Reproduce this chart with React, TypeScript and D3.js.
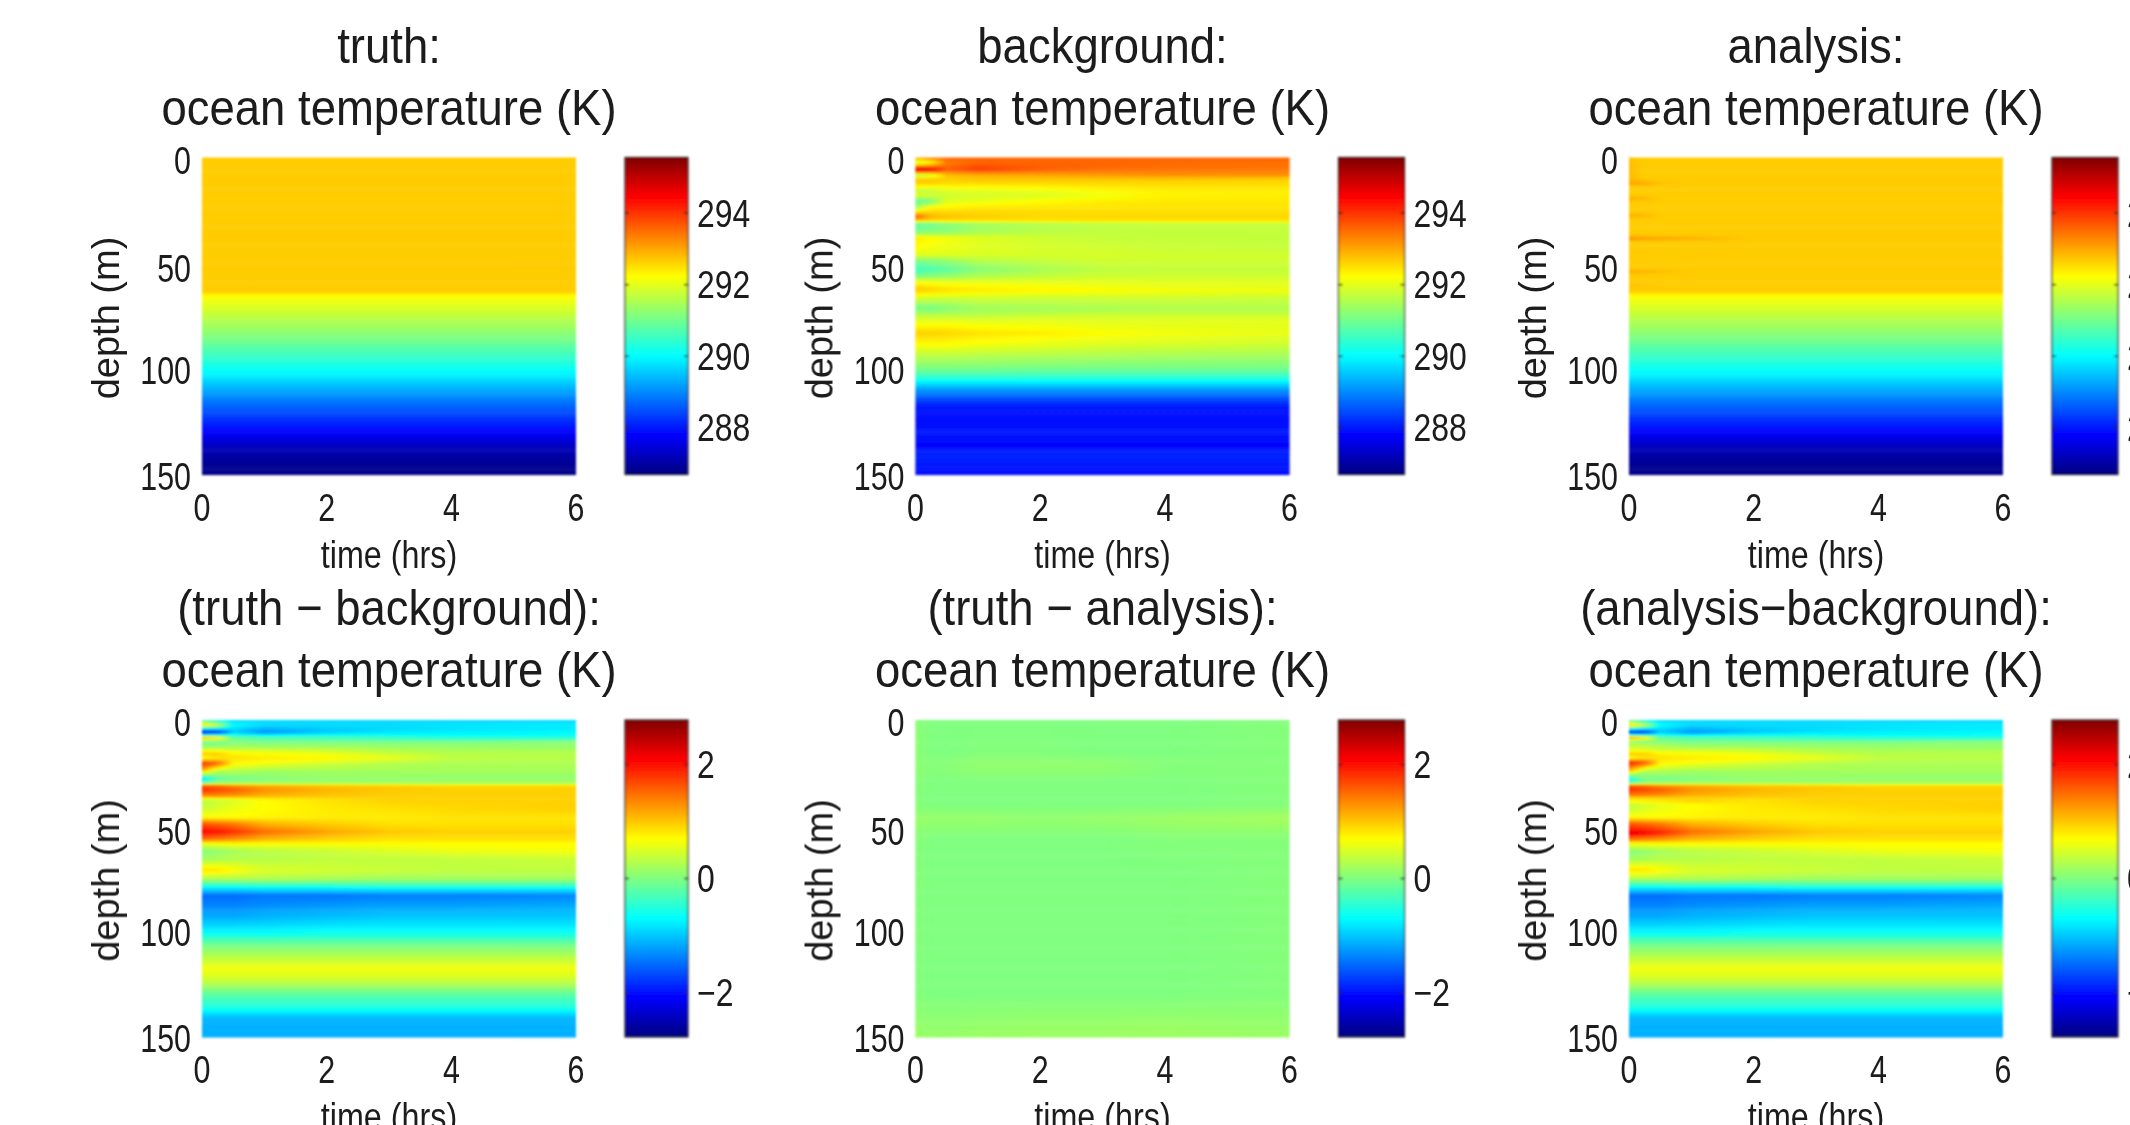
import React from "react";
import * as d3 from "d3";

// ---- data ----
const sampleTimes = [0, 0.25, 0.5, 1, 2, 3, 4, 6];

const truthDepths = [0, 63.5, 65.5, 85, 101.7, 114.6, 130, 136, 142, 150];
const truthTemps = [292.67, 292.67, 292.23, 291.12, 290.0, 288.9, 287.8, 287.3, 286.98, 286.75];

// truth − background (K), one row per depth, one column per sample time
const diffDepths = [0, 2.5, 5.8, 8.5, 10, 12, 16, 18, 20.5, 24, 28, 30, 31, 33, 36, 38, 42, 46, 49, 53, 56.5, 58.5, 62, 66, 71, 75, 78, 80, 83, 88, 93, 100, 106, 112, 118, 124, 130, 137, 139, 142, 150];
const diffRows = [
  [-0.3, -0.7, -0.9, -0.9, -0.9, -0.9, -0.9, -0.9],
  [0.9, 0.5, -0.7, -0.9, -0.9, -0.9, -0.85, -0.8],
  [-2.2, -2.0, -1.0, -1.3, -1.0, -0.85, -0.8, -0.75],
  [1.2, 1.0, -0.1, -0.2, -0.3, -0.4, -0.5, -0.5],
  [0, 0, 0, -0.1, -0.1, -0.1, -0.1, 0],
  [0, 0, 0.1, 0.1, 0.1, 0.1, 0.1, 0.1],
  [1.0, 1.0, 0.75, 0.7, 0.6, 0.4, 0.3, 0.3],
  [0.6, 0.8, 0.85, 0.8, 0.75, 0.6, 0.35, 0.3],
  [1.9, 1.6, 0.75, 0.65, 0.45, 0.3, 0.25, 0.25],
  [1.1, 0.3, 0.3, 0.2, 0.2, 0.2, 0.2, 0.2],
  [-1.0, -0.2, -0.1, 0, 0.1, 0.1, 0.1, 0.1],
  [0, 0.2, 0.2, 0.2, 0.2, 0.2, 0.2, 0.2],
  [1.6, 1.5, 1.3, 1.15, 1.0, 0.95, 0.9, 0.9],
  [1.85, 1.7, 1.6, 1.3, 1.1, 1.0, 0.95, 0.95],
  [1.3, 1.3, 1.25, 1.1, 1.0, 0.95, 0.95, 0.95],
  [0.3, 0.4, 0.5, 0.7, 0.85, 0.95, 0.95, 0.95],
  [0.4, 0.5, 0.6, 0.7, 0.8, 0.85, 0.9, 0.95],
  [0.7, 0.7, 0.7, 0.75, 0.8, 0.8, 0.85, 0.85],
  [1.6, 1.5, 1.4, 1.1, 0.95, 0.85, 0.85, 0.85],
  [2.1, 2.0, 1.85, 1.5, 1.2, 1.0, 0.95, 0.95],
  [1.5, 1.4, 1.3, 1.1, 0.95, 0.85, 0.85, 0.85],
  [0.6, 0.65, 0.7, 0.7, 0.7, 0.7, 0.7, 0.7],
  [0, 0.1, 0.2, 0.3, 0.4, 0.5, 0.6, 0.65],
  [0.2, 0.25, 0.3, 0.3, 0.35, 0.35, 0.35, 0.4],
  [0.85, 0.85, 0.7, 0.5, 0.45, 0.4, 0.35, 0.35],
  [0.3, 0.3, 0.3, 0.3, 0.25, 0.2, 0.2, 0.2],
  [-0.4, -0.4, -0.4, -0.35, -0.35, -0.3, -0.3, -0.3],
  [-0.9, -0.9, -0.9, -0.85, -0.85, -0.8, -0.8, -0.8],
  [-1.5, -1.5, -1.5, -1.45, -1.45, -1.4, -1.4, -1.35],
  [-1.35, -1.35, -1.35, -1.3, -1.25, -1.2, -1.2, -1.15],
  [-1.15, -1.15, -1.15, -1.1, -1.05, -1.0, -1.0, -1.0],
  [-0.75, -0.75, -0.75, -0.75, -0.7, -0.7, -0.7, -0.7],
  [-0.1, -0.1, -0.1, -0.1, -0.1, -0.1, -0.1, -0.1],
  [0.3, 0.3, 0.3, 0.3, 0.3, 0.3, 0.3, 0.3],
  [0.65, 0.65, 0.65, 0.65, 0.65, 0.65, 0.65, 0.65],
  [0.35, 0.35, 0.35, 0.35, 0.35, 0.35, 0.35, 0.35],
  [-0.2, -0.2, -0.2, -0.2, -0.2, -0.2, -0.2, -0.2],
  [-0.6, -0.6, -0.6, -0.6, -0.6, -0.6, -0.6, -0.6],
  [-0.9, -0.9, -0.9, -0.9, -0.9, -0.9, -0.9, -0.9],
  [-1.12, -1.12, -1.12, -1.12, -1.12, -1.12, -1.12, -1.12],
  [-1.12, -1.12, -1.12, -1.12, -1.12, -1.12, -1.12, -1.12],
];

// how far the background panel itself sits from truth − diff below the mixed layer (K)
const bgOffsetDepths = [0, 72, 75, 78, 80, 83, 88, 93, 100, 105, 110, 150];
const bgOffsetRows = [
  [0, 0, 0, 0, 0, 0, 0, 0],
  [0, 0, 0, 0, 0, 0, 0, 0],
  [0.3, 0.3, 0.3, 0.3, 0.35, 0.35, 0.35, 0.35],
  [0.2, 0.2, 0.2, 0.2, 0.2, 0.2, 0.2, 0.2],
  [0, 0, 0, -0.05, -0.1, -0.15, -0.2, -0.2],
  [-0.1, -0.1, -0.15, -0.2, -0.3, -0.4, -0.5, -0.55],
  [0, 0, 0, -0.05, -0.1, -0.15, -0.2, -0.25],
  [0, 0, 0, 0, 0, 0, -0.05, -0.1],
  [0.2, 0.2, 0.2, 0.2, 0.2, 0.2, 0.2, 0.2],
  [0.3, 0.3, 0.3, 0.3, 0.3, 0.3, 0.3, 0.3],
  [0, 0, 0, 0, 0, 0, 0, 0],
  [0, 0, 0, 0, 0, 0, 0, 0],
];

// warm streaks the analysis keeps at early times (K above truth)
const streakDepths = [0, 5, 10, 12.3, 14, 18, 19.4, 21, 26, 27.3, 29, 36.5, 38.3, 40, 52.5, 54, 55.5, 59, 60.4, 62, 150];
const streakRows = [
  [0.1, 0, 0, 0, 0, 0, 0, 0],
  [0.15, 0, 0, 0, 0, 0, 0, 0],
  [0.15, 0, 0, 0, 0, 0, 0, 0],
  [0.35, 0.3, 0.1, 0, 0, 0, 0, 0],
  [0, 0, 0, 0, 0, 0, 0, 0],
  [0, 0, 0, 0, 0, 0, 0, 0],
  [0.3, 0.2, 0, 0, 0, 0, 0, 0],
  [0, 0, 0, 0, 0, 0, 0, 0],
  [0, 0, 0, 0, 0, 0, 0, 0],
  [0.3, 0.2, 0, 0, 0, 0, 0, 0],
  [0, 0, 0, 0, 0, 0, 0, 0],
  [0, 0, 0, 0, 0, 0, 0, 0],
  [0.5, 0.4, 0.35, 0.25, 0, 0, 0, 0],
  [0, 0, 0, 0, 0, 0, 0, 0],
  [0, 0, 0, 0, 0, 0, 0, 0],
  [0.3, 0.25, 0.15, 0, 0, 0, 0, 0],
  [0, 0, 0, 0, 0, 0, 0, 0],
  [0, 0, 0, 0, 0, 0, 0, 0],
  [0.12, 0.06, 0, 0, 0, 0, 0, 0],
  [0, 0, 0, 0, 0, 0, 0, 0],
  [0, 0, 0, 0, 0, 0, 0, 0],
];

// truth − analysis (K)
const residualDepths = [0, 15, 22, 30, 40, 47, 56, 70, 130, 145, 150];
const residualRows = [
  [0.06, 0, 0, 0, 0, 0, 0, 0.03],
  [0.06, 0, 0, 0.02, 0.02, 0, 0, 0.03],
  [0.08, 0.03, 0.05, 0.1, 0.1, 0.1, 0.03, 0.03],
  [0.04, 0, 0, 0, 0, 0, 0, 0.03],
  [0.04, 0, 0, 0, 0, 0, 0, 0.03],
  [0.14, 0.12, 0.12, 0.12, 0.1, 0.12, 0.16, 0.2],
  [0.04, 0, 0, 0, 0, 0, 0.03, 0.03],
  [0.03, 0, 0, 0, 0, 0, 0, 0.03],
  [0.03, 0, 0, 0, 0, 0, 0, 0.03],
  [0.12, 0.1, 0.1, 0.12, 0.14, 0.14, 0.15, 0.12],
  [0.14, 0.12, 0.12, 0.14, 0.16, 0.16, 0.16, 0.14],
];

const timeTicks = [0, 2, 4, 6];
const depthTicks = [0, 50, 100, 150];
const tempTicks = [288, 290, 292, 294];
const diffTicks = [-2, 0, 2];
const tempRange = [286.7, 295.55];
const diffRange = [-2.78, 2.78];
const jetPositions = [0, 0.125, 0.375, 0.625, 0.875, 1];
const jetColors = ["#000080", "#0000ff", "#00ffff", "#ffff00", "#ff0000", "#800000"];
const minus = "\u2212";
const unitLine = "ocean temperature (K)";
const gridTimes = [0, 0.1, 0.2, 0.3, 0.4, 0.5, 0.75, 1, 1.5, 2, 3, 4, 5, 6];

// ---- field lookups ----
function profile(z: number) {
  return d3.scaleLinear().domain(truthDepths).range(truthTemps)(z);
}
function table(depths: number[], rows: number[][], z: number, t: number) {
  const i = Math.min(d3.bisectRight(depths, z), depths.length - 1);
  const i0 = Math.max(i - 1, 0);
  const f = depths[i] === depths[i0] ? 0 : (z - depths[i0]) / (depths[i] - depths[i0]);
  const at = (r: number[]) => d3.scaleLinear().domain(sampleTimes).range(r)(t);
  return at(rows[i0]) * (1 - f) + at(rows[i]) * f;
}
const diff = (z: number, t: number) => table(diffDepths, diffRows, z, t);
const bgOffset = (z: number, t: number) => table(bgOffsetDepths, bgOffsetRows, z, t);
const streak = (z: number, t: number) => table(streakDepths, streakRows, z, t);
const residual = (z: number, t: number) => table(residualDepths, residualRows, z, t);

type Panel = {
  key: string;
  col: number;
  row: number;
  title: string;
  range: number[];
  ticks: number[];
  value: (z: number, t: number) => number;
};
const panels: Panel[] = [
  { key: "truth", col: 0, row: 0, title: "truth:", range: tempRange, ticks: tempTicks, value: (z) => profile(z) },
  { key: "bg", col: 1, row: 0, title: "background:", range: tempRange, ticks: tempTicks, value: (z, t) => profile(z) - diff(z, t) + bgOffset(z, t) },
  { key: "an", col: 2, row: 0, title: "analysis:", range: tempRange, ticks: tempTicks, value: (z, t) => profile(z) + streak(z, t) },
  { key: "tb", col: 0, row: 1, title: `(truth ${minus} background):`, range: diffRange, ticks: diffTicks, value: diff },
  { key: "ta", col: 1, row: 1, title: `(truth ${minus} analysis):`, range: diffRange, ticks: diffTicks, value: residual },
  { key: "ab", col: 2, row: 1, title: `(analysis${minus}background):`, range: diffRange, ticks: diffTicks, value: (z, t) => diff(z, t) + streak(z, t) },
];

// ---- layout ----
const colX = [202, 915.5, 1629];
const rowY = [157.5, 720];
const plotW = 374;
const plotH = 317;
const barGap = 49;
const barWidths = [63, 66, 66];
const depthStep = 0.5;
const font = "'Liberation Sans', Arial, sans-serif";
const ink = "#1a1a1a";

function Txt({ x, y, size, sx = 0.9, anchor = "middle", rotate = 0, children }: any) {
  return (
    <text
      transform={`translate(${x},${y}) rotate(${rotate}) scale(${sx},1)`}
      textAnchor={anchor}
      fontFamily={font}
      fontSize={size}
      fill={ink}
    >
      {children}
    </text>
  );
}

function Heat({ p }: { p: Panel }) {
  const x0 = colX[p.col];
  const y0 = rowY[p.row];
  const barW = barWidths[p.col];
  const x = d3.scaleLinear().domain([0, 6]).range([x0, x0 + plotW]);
  const y = d3.scaleLinear().domain([0, 150]).range([y0, y0 + plotH]);
  const norm = d3.scaleLinear().domain(p.range).range([0, 1]).clamp(true);
  const jet = d3.scaleLinear<string>().domain(jetPositions).range(jetColors).interpolate(d3.interpolateRgb);
  const depths = d3.range(0, 150, depthStep);
  const barX = x0 + plotW + barGap;
  const barScale = d3.scaleLinear().domain(p.range).range([y0 + plotH, y0]);
  const barStops = d3.range(0, 1.0001, 0.025);
  const fmt = (v: number) => (v < 0 ? `${minus}${Math.abs(v)}` : `${v}`);
  const tickOffsets: Record<number, number> = { 0: 16, 50: 19, 100: 15, 150: 15 };
  return (
    <g>
      <defs>
        {depths.map((z, i) => (
          <linearGradient key={i} id={`${p.key}-${i}`} gradientUnits="userSpaceOnUse" x1={x(0)} x2={x(6)} y1={0} y2={0}>
            {gridTimes.map((t) => (
              <stop key={t} offset={t / 6} stopColor={jet(norm(p.value(z + depthStep / 2, t)))} />
            ))}
          </linearGradient>
        ))}
        <linearGradient id={`${p.key}-bar`} x1={0} x2={0} y1={1} y2={0}>
          {barStops.map((s) => (
            <stop key={s} offset={s} stopColor={jet(s)} />
          ))}
        </linearGradient>
      </defs>
      <g filter="url(#soft)">
        {depths.map((z, i) => (
          <rect key={i} x={x(0)} y={y(z)} width={plotW} height={y(z + depthStep) - y(z) + 0.6} fill={`url(#${p.key}-${i})`} />
        ))}
        <rect x={barX} y={y0} width={barW} height={plotH} fill={`url(#${p.key}-bar)`} stroke="#222" strokeWidth={1.2} />
        {p.ticks.map((v) => (
          <g key={v}>
            <line x1={barX} x2={barX + 4} y1={barScale(v)} y2={barScale(v)} stroke="#222" strokeWidth={1.5} />
            <line x1={barX + barW - 4} x2={barX + barW} y1={barScale(v)} y2={barScale(v)} stroke="#222" strokeWidth={1.5} />
          </g>
        ))}
      </g>
      <g filter="url(#softText)">
        <Txt x={x0 + plotW / 2} y={y0 - 95} size={50} sx={0.91}>{p.title}</Txt>
        <Txt x={x0 + plotW / 2} y={y0 - 33} size={50} sx={0.91}>{unitLine}</Txt>
        {timeTicks.map((t) => (
          <Txt key={t} x={x(t)} y={y0 + plotH + 46} size={38} sx={0.8}>{t}</Txt>
        ))}
        {depthTicks.map((d) => (
          <Txt key={d} x={x0 - 11} y={y(d) + tickOffsets[d]} size={38} sx={0.8} anchor="end">{d}</Txt>
        ))}
        {p.ticks.map((v) => (
          <Txt key={v} x={barX + barW + 9} y={barScale(v) + 13.5} size={38} sx={0.84} anchor="start">{fmt(v)}</Txt>
        ))}
        <Txt x={x0 + plotW / 2} y={y0 + plotH + 93} size={38} sx={0.85}>time (hrs)</Txt>
        <Txt x={x0 - 83} y={y0 + plotH / 2 + 2} size={38} sx={1.0} rotate={-90}>depth (m)</Txt>
      </g>
    </g>
  );
}

export default function App() {
  return (
    <svg width={2130} height={1125} style={{ position: "absolute", left: 0, top: 0, background: "#fff" }}>
      <defs>
        <filter id="soft" x="-5%" y="-5%" width="110%" height="110%">
          <feGaussianBlur stdDeviation="0.9" />
        </filter>
        <filter id="softText" x="-5%" y="-5%" width="110%" height="110%">
          <feGaussianBlur stdDeviation="0.7" />
        </filter>
      </defs>
      {panels.map((p) => (
        <Heat key={p.key} p={p} />
      ))}
    </svg>
  );
}
